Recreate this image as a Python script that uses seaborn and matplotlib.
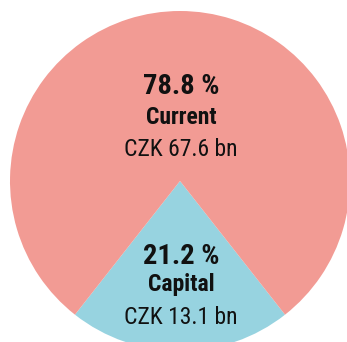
import matplotlib
matplotlib.use("Agg")
import matplotlib.pyplot as plt
import seaborn as sns

# Expenditure split
categories = ["Capital", "Current"]
shares = [21.2, 78.8]
amounts = ["13.1", "67.6"]
colors = ["#97D3E0", "#F29B94"]

sns.set_theme(style="white")
plt.rcParams["font.family"] = ["Roboto Condensed", "DejaVu Sans"]

fig = plt.figure(figsize=(3.47, 3.42), dpi=100)
ax = fig.add_axes([0, 0, 1, 1])

cx, cy, r = 180, 161, 170
start = 270 - shares[0] * 180 / 100
ax.pie(shares, colors=colors, startangle=start, center=(cx, cy), radius=r,
       wedgeprops=dict(linewidth=0), frame=True)
ax.set_xlim(0, 347)
ax.set_ylim(0, 342)
ax.set_aspect("equal")
ax.axis("off")

# Labels: percentage, category name, amount
label_y = {"Current": (255, 225, 193), "Capital": (86, 58, 24)}
for cat, share, amt in zip(categories, shares, amounts):
    y1, y2, y3 = label_y[cat]
    ax.text(cx + 1, y1, f"{share:.1f} %", ha="center", va="center",
            fontsize=20.5, fontweight="bold", color="#111111")
    ax.text(cx + 1, y2, cat, ha="center", va="center",
            fontsize=17, fontweight="bold", color="#111111")
    ax.text(cx + 1, y3, f"CZK {amt} bn", ha="center", va="center",
            fontsize=17, color="#111111")

fig.savefig("out.png", dpi=100, facecolor="white")
